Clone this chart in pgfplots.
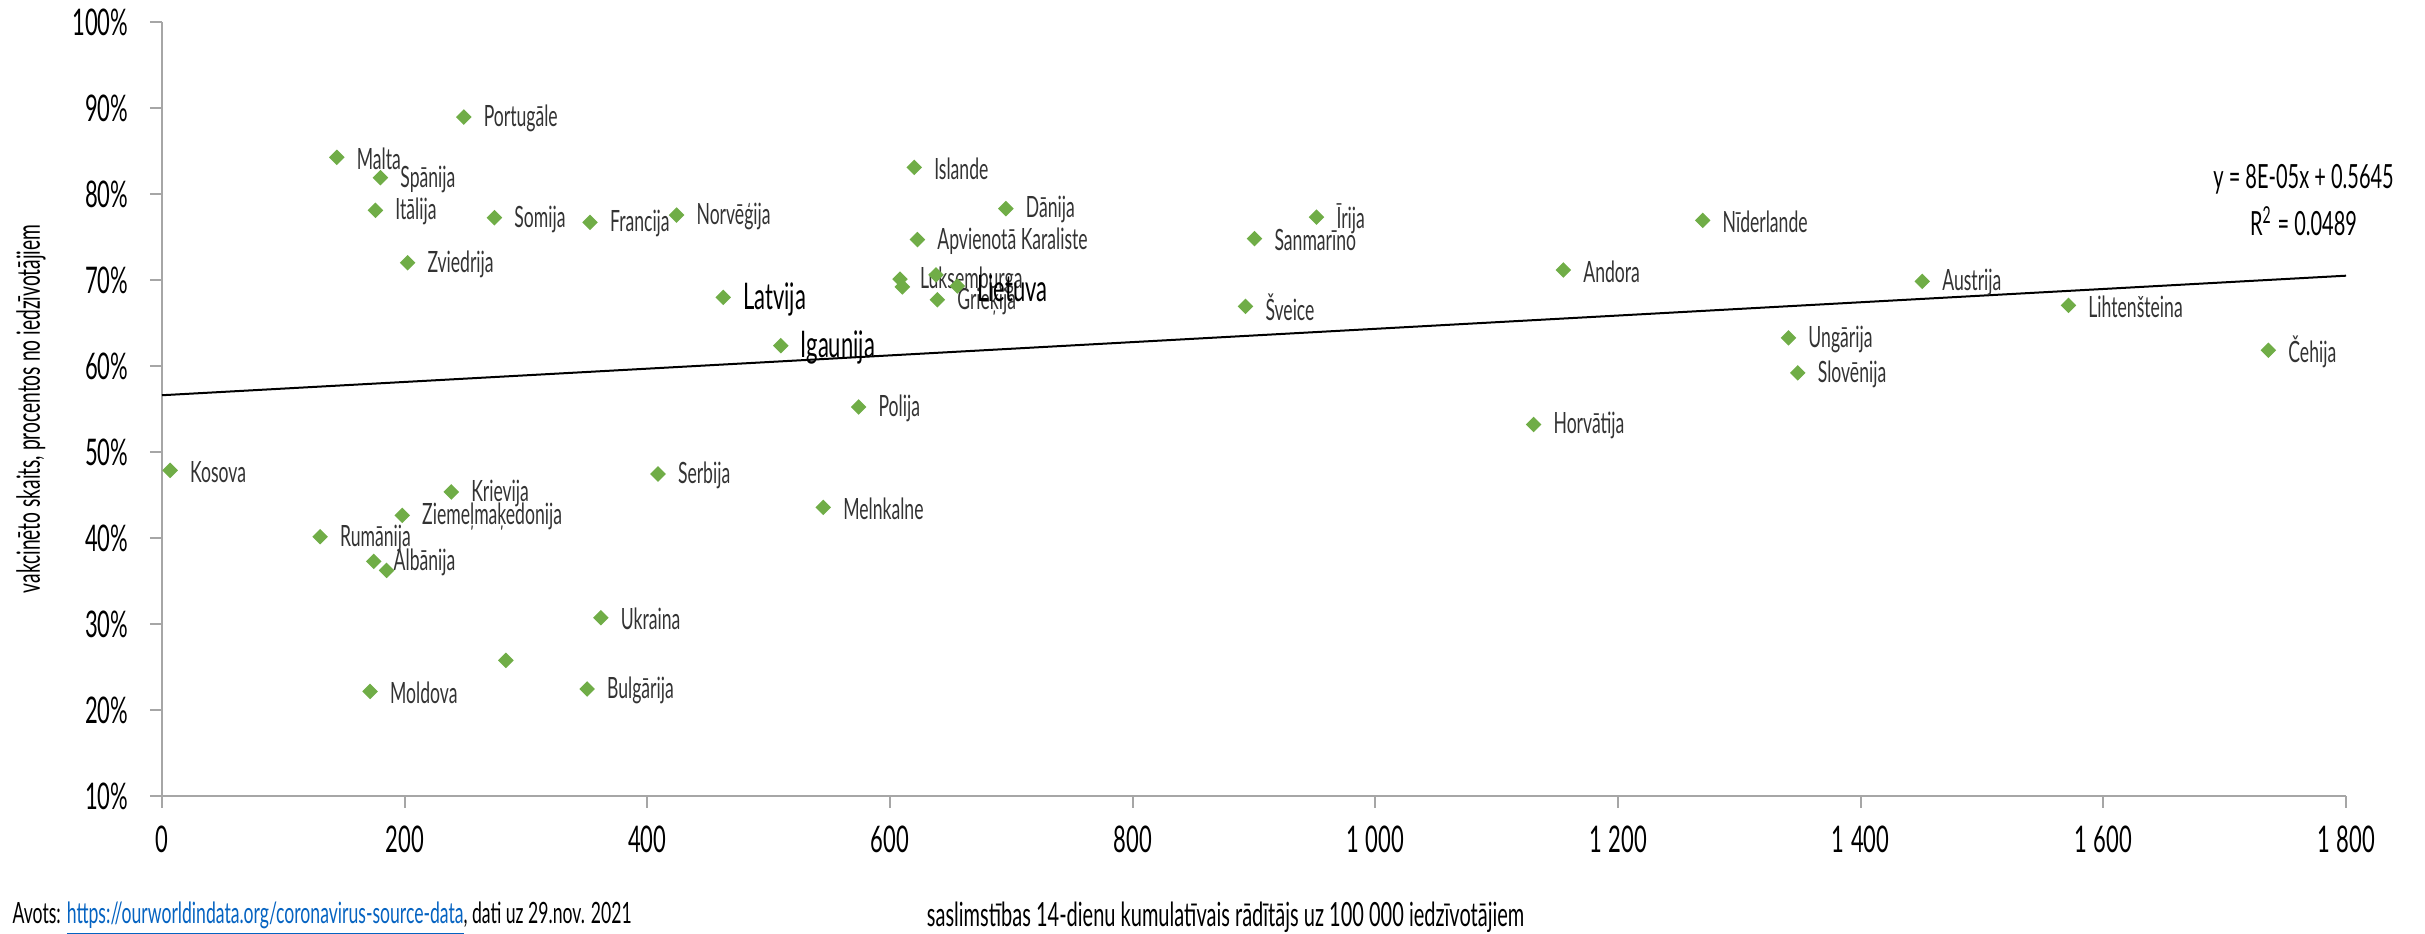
\documentclass[border=0pt]{standalone}
\usepackage{pgfplots}
\pgfplotsset{compat=1.18}
\usepackage{pgfplotstable}
\usepackage{fontspec}
\setmainfont{Lato}[FakeStretch=0.6]
\definecolor{ptgreen}{HTML}{70AD47}
\definecolor{lblgray}{HTML}{333333}
\definecolor{axgray}{HTML}{A6A6A6}
\definecolor{linkblue}{HTML}{0563C1}

\pgfplotstableread[col sep=comma]{
x,y,label
248.7,88.95,Portugāle
144.1,84.26,Malta
180.0,81.9,Spānija
175.9,78.1,Itālija
274.0,77.24,Somija
352.8,76.7,Francija
424.1,77.55,Norvēģija
202.4,72.0,Zviedrija
620.0,83.1,Islande
695.5,78.3,Dānija
951.5,77.3,Īrija
622.6,74.7,Apvienotā Karaliste
900.4,74.8,Sanmarīno
608.3,70.1,Luksemburga
639.0,67.7,Grieķija
893.0,66.93,Šveice
574.1,55.23,Polija
1269.8,76.93,Nīderlande
1155.0,71.16,Andora
1450.8,69.84,Austrija
1340.5,63.26,Ungārija
1348.2,59.2,Slovēnija
1130.4,53.2,Horvātija
1571.2,67.05,Lihtenšteina
1736.0,61.82,Čehija
6.7,47.86,Kosova
408.8,47.44,Serbija
238.4,45.35,Krievija
198.0,42.63,Ziemeļmaķedonija
130.3,40.15,Rumānija
174.5,37.28,Albānija
545.0,43.56,Melnkalne
361.7,30.73,Ukraina
171.5,22.16,Moldova
350.4,22.44,Bulgārija
}\labeled

\pgfplotstableread[col sep=comma]{
x,y,label
462.5,67.98,Latvija
510.0,62.36,Igaunija
655.5,69.3,Lietuva
}\baltic

\pgfplotstableread[col sep=comma]{
x,y
185.1,36.23
283.4,25.77
610.2,69.2
637.9,70.6
}\unlabeled

\begin{document}
\begin{tikzpicture}
\begin{axis}[
  at={(48.6pt,41.4pt)}, anchor=south west,
  scale only axis, width=655.2pt, height=232.2pt,
  xmin=0, xmax=1800, ymin=10, ymax=100,
  axis x line=bottom, axis y line=left,
  axis line style={-, axgray, line width=0.7pt},
  tick style={axgray, line width=0.6pt},
  tick align=outside, major tick length=3.6pt,
  xtick={0,200,...,1800}, ytick={10,20,...,100},
  /pgf/number format/.cd, 1000 sep={\hspace{0.18em}}, assume math mode=true,
  /pgfplots/.cd,
  yticklabel={\pgfmathprintnumber{\tick}\%},
  ticklabel style={font=\fontsize{11pt}{13pt}\selectfont, text=black},
  yticklabel style={xshift=-3pt},
  xticklabel style={yshift=-1.8pt},
  xlabel={saslimstības 14-dienu kumulatīvais rādītājs uz 100 000 iedzīvotājiem},
  xlabel style={at={(axis description cs:0.487,0)}, anchor=center, yshift=-36.3pt, font=\fontsize{10pt}{12pt}\selectfont},
  ylabel={vakcinēto skaits, procentos no iedzīvotājiem},
  ylabel style={at={(axis description cs:-0.06,0.5)}, anchor=center, font=\fontsize{9.6pt}{11pt}\selectfont},
  clip=false,
]
\addplot[black, line width=0.6pt] coordinates {(0,56.6) (1800,70.5)};
\addplot[only marks, mark=square*, mark size=1.45pt, mark options={rotate=45, fill=ptgreen, draw=ptgreen},
  point meta=explicit symbolic, nodes near coords,
  nodes near coords style={anchor=west, inner sep=0pt, xshift=5.8pt, yshift=-0.4pt, text=lblgray, font=\fontsize{8.8pt}{10.5pt}\selectfont}]
  table[x=x, y=y, meta=label]{\labeled};
\addplot[only marks, mark=square*, mark size=1.45pt, mark options={rotate=45, fill=ptgreen, draw=ptgreen}]
  table[x=x, y=y]{\unlabeled};
\addplot[only marks, mark=square*, mark size=1.45pt, mark options={rotate=45, fill=ptgreen, draw=ptgreen},
  point meta=explicit symbolic, nodes near coords,
  nodes near coords style={anchor=west, inner sep=0pt, xshift=5.8pt, yshift=-0.6pt, text=black, font=\fontsize{11pt}{13pt}\selectfont}]
  table[x=x, y=y, meta=label]{\baltic};
\node[align=center, font=\fontsize{10pt}{14pt}\selectfont, text=black] at (axis cs:1765,79.3) {y = 8E-05x + 0.5645\\R\textsuperscript{2} = 0.0489};
\end{axis}
\node[anchor=west, inner sep=0pt, font=\fontsize{8.8pt}{10pt}\selectfont] at (3.6pt,4.5pt) {Avots: \textcolor{linkblue}{\underline{https://ourworldindata.org/coronavirus-source-data}}, dati uz 29.nov. 2021};
\pgfresetboundingbox
\useasboundingbox (0,0) rectangle (727.5pt,280.2pt);
\end{tikzpicture}
\end{document}
